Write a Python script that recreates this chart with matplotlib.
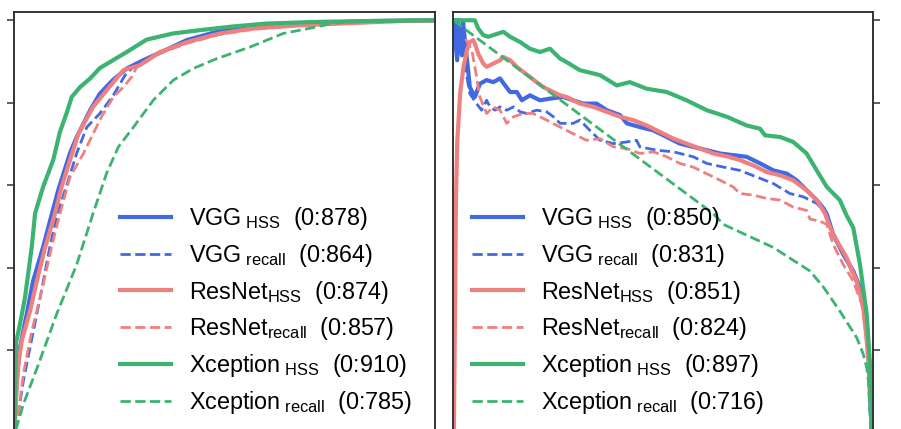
import matplotlib
matplotlib.use("Agg")
import matplotlib.pyplot as plt

plt.rcParams['font.family'] = ['Liberation Sans', 'DejaVu Sans']
plt.rcParams['mathtext.fontset'] = 'custom'
plt.rcParams['mathtext.rm'] = 'Liberation Sans'
plt.rcParams['mathtext.it'] = 'Liberation Sans:italic'
plt.rcParams['mathtext.bf'] = 'Liberation Sans:bold'

# ---------------- data ----------------
models = ["VGG", "VGG", "ResNet", "ResNet", "Xception", "Xception"]
kinds = ["HSS", "recall", "HSS", "recall", "HSS", "recall"]
roc_scores = ["0:878", "0:864", "0:874", "0:857", "0:910", "0:785"]
pr_scores = ["0:850", "0:831", "0:851", "0:824", "0:897", "0:716"]

# ROC curves (false positive rate, true positive rate)
roc_vgg_hss_x = [0.0, 0.001, 0.005, 0.013, 0.029, 0.044, 0.068, 0.089, 0.104, 0.132, 0.148, 0.180, 0.203, 0.234, 0.267, 0.306, 0.362, 0.410, 0.481, 0.560, 0.679, 0.838, 1.0]
roc_vgg_hss_y = [0.0, 0.045, 0.125, 0.207, 0.287, 0.367, 0.450, 0.531, 0.588, 0.678, 0.717, 0.782, 0.822, 0.855, 0.883, 0.903, 0.929, 0.952, 0.972, 0.984, 0.992, 0.998, 1.0]

roc_vgg_rec_x = [0.0, 0.009, 0.021, 0.037, 0.061, 0.084, 0.102, 0.128, 0.148, 0.172, 0.203, 0.235, 0.263, 0.283, 0.306, 0.362, 0.410, 0.481, 0.560, 0.679, 0.838, 1.0]
roc_vgg_rec_y = [0.0, 0.045, 0.125, 0.207, 0.328, 0.450, 0.531, 0.612, 0.678, 0.741, 0.774, 0.818, 0.867, 0.887, 0.901, 0.927, 0.949, 0.968, 0.981, 0.990, 0.997, 1.0]

roc_res_hss_x = [0.0, 0.004, 0.009, 0.017, 0.037, 0.053, 0.073, 0.096, 0.112, 0.132, 0.152, 0.187, 0.219, 0.259, 0.298, 0.346, 0.410, 0.489, 0.567, 0.679, 0.798, 0.917, 1.0]
roc_res_hss_y = [0.0, 0.086, 0.166, 0.222, 0.295, 0.367, 0.450, 0.530, 0.596, 0.661, 0.725, 0.790, 0.830, 0.879, 0.891, 0.923, 0.947, 0.968, 0.980, 0.988, 0.993, 0.998, 1.0]

roc_res_rec_x = [0.0, 0.009, 0.021, 0.041, 0.065, 0.088, 0.108, 0.132, 0.164, 0.187, 0.207, 0.235, 0.259, 0.279, 0.291, 0.346, 0.410, 0.489, 0.567, 0.679, 0.798, 1.0]
roc_res_rec_y = [0.0, 0.045, 0.142, 0.246, 0.345, 0.450, 0.531, 0.620, 0.677, 0.725, 0.766, 0.814, 0.838, 0.863, 0.887, 0.920, 0.944, 0.966, 0.978, 0.987, 0.993, 1.0]

roc_xce_hss_x = [0.0, 0.002, 0.004, 0.013, 0.025, 0.041, 0.049, 0.068, 0.092, 0.108, 0.124, 0.136, 0.156, 0.180, 0.203, 0.234, 0.267, 0.314, 0.377, 0.441, 0.520, 0.600, 0.719, 0.838, 1.0]
roc_xce_hss_y = [0.0, 0.150, 0.220, 0.263, 0.328, 0.450, 0.532, 0.596, 0.661, 0.729, 0.775, 0.814, 0.838, 0.859, 0.884, 0.903, 0.923, 0.953, 0.968, 0.976, 0.985, 0.992, 0.996, 0.998, 1.0]

roc_xce_rec_x = [0.0, 0.005, 0.021, 0.057, 0.100, 0.148, 0.187, 0.219, 0.247, 0.283, 0.330, 0.378, 0.425, 0.481, 0.560, 0.639, 0.719, 0.758, 0.838, 1.0]
roc_xce_rec_y = [0.0, 0.013, 0.069, 0.166, 0.287, 0.408, 0.532, 0.629, 0.693, 0.741, 0.806, 0.855, 0.883, 0.907, 0.935, 0.968, 0.984, 0.993, 0.998, 1.0]

# Precision-recall curves (recall, precision)
pr_vgg_hss_x = [0.001, 0.010, 0.012, 0.021, 0.024, 0.029, 0.036, 0.040, 0.052, 0.064, 0.080, 0.096, 0.112, 0.124, 0.136, 0.152, 0.164, 0.183, 0.207, 0.231, 0.263, 0.286, 0.310, 0.342, 0.366, 0.398, 0.414, 0.445, 0.477, 0.509, 0.540, 0.572, 0.604, 0.636, 0.667, 0.699, 0.731, 0.763, 0.795, 0.818, 0.842, 0.866, 0.882, 0.890, 0.905, 0.929, 0.953, 0.969, 0.981, 0.989, 0.993, 0.997, 0.998]
pr_vgg_hss_y = [1.0, 0.903, 1.0, 0.915, 0.995, 0.944, 0.879, 0.838, 0.814, 0.846, 0.855, 0.850, 0.859, 0.842, 0.826, 0.826, 0.806, 0.818, 0.806, 0.810, 0.814, 0.806, 0.798, 0.798, 0.782, 0.770, 0.750, 0.741, 0.733, 0.717, 0.701, 0.693, 0.685, 0.677, 0.673, 0.669, 0.653, 0.636, 0.628, 0.612, 0.588, 0.564, 0.544, 0.530, 0.481, 0.433, 0.392, 0.352, 0.287, 0.207, 0.086, 0.008, 0.0]

pr_vgg_rec_x = [0.010, 0.021, 0.025, 0.033, 0.040, 0.056, 0.068, 0.080, 0.088, 0.100, 0.112, 0.128, 0.144, 0.160, 0.175, 0.199, 0.223, 0.239, 0.255, 0.286, 0.302, 0.326, 0.350, 0.382, 0.414, 0.437, 0.445, 0.485, 0.525, 0.572, 0.604, 0.644, 0.683, 0.723, 0.763, 0.802, 0.834, 0.866, 0.882, 0.898, 0.921, 0.945, 0.969, 0.981, 0.989, 0.995, 0.996]
pr_vgg_rec_y = [1.0, 0.952, 0.952, 0.863, 0.822, 0.798, 0.782, 0.806, 0.790, 0.782, 0.790, 0.782, 0.790, 0.778, 0.774, 0.782, 0.778, 0.766, 0.750, 0.750, 0.758, 0.733, 0.709, 0.701, 0.705, 0.709, 0.693, 0.685, 0.681, 0.669, 0.653, 0.644, 0.636, 0.620, 0.604, 0.580, 0.572, 0.556, 0.539, 0.498, 0.450, 0.401, 0.344, 0.271, 0.190, 0.008, 0.0]

pr_res_hss_x = [0.002, 0.005, 0.007, 0.010, 0.017, 0.025, 0.033, 0.040, 0.048, 0.052, 0.060, 0.072, 0.080, 0.096, 0.112, 0.120, 0.136, 0.152, 0.167, 0.183, 0.199, 0.215, 0.231, 0.255, 0.271, 0.302, 0.334, 0.366, 0.398, 0.429, 0.461, 0.493, 0.525, 0.556, 0.588, 0.620, 0.652, 0.683, 0.715, 0.747, 0.779, 0.810, 0.842, 0.866, 0.886, 0.898, 0.914, 0.937, 0.961, 0.977, 0.985, 0.993, 0.997, 0.998]
pr_res_hss_y = [0.0, 0.321, 0.564, 0.702, 0.823, 0.887, 0.927, 0.947, 0.952, 0.944, 0.919, 0.895, 0.887, 0.895, 0.903, 0.911, 0.903, 0.887, 0.875, 0.863, 0.850, 0.838, 0.830, 0.818, 0.814, 0.798, 0.790, 0.778, 0.766, 0.758, 0.745, 0.729, 0.713, 0.701, 0.689, 0.677, 0.670, 0.661, 0.648, 0.632, 0.624, 0.612, 0.588, 0.564, 0.531, 0.497, 0.465, 0.425, 0.368, 0.304, 0.223, 0.126, 0.008, 0.0]

pr_res_rec_x = [0.030, 0.045, 0.056, 0.064, 0.080, 0.096, 0.112, 0.128, 0.144, 0.167, 0.191, 0.223, 0.255, 0.286, 0.318, 0.350, 0.382, 0.414, 0.445, 0.477, 0.509, 0.540, 0.572, 0.604, 0.636, 0.667, 0.683, 0.715, 0.747, 0.779, 0.810, 0.842, 0.850, 0.874, 0.890, 0.905, 0.929, 0.953, 0.973, 0.985, 0.993, 0.997, 0.998]
pr_res_rec_y = [0.955, 0.927, 0.863, 0.814, 0.774, 0.790, 0.782, 0.750, 0.766, 0.774, 0.774, 0.758, 0.741, 0.725, 0.709, 0.713, 0.693, 0.689, 0.677, 0.681, 0.669, 0.653, 0.644, 0.628, 0.612, 0.596, 0.580, 0.576, 0.568, 0.564, 0.547, 0.539, 0.518, 0.513, 0.505, 0.457, 0.408, 0.368, 0.312, 0.231, 0.126, 0.008, 0.0]

pr_xce_hss_x = [0.001, 0.052, 0.060, 0.072, 0.084, 0.120, 0.136, 0.160, 0.183, 0.207, 0.231, 0.255, 0.263, 0.302, 0.350, 0.390, 0.421, 0.461, 0.509, 0.556, 0.604, 0.652, 0.699, 0.731, 0.743, 0.779, 0.810, 0.842, 0.866, 0.890, 0.921, 0.937, 0.953, 0.969, 0.985, 0.993, 0.997, 0.999]
pr_xce_hss_y = [1.0, 1.0, 0.980, 0.964, 0.960, 0.972, 0.960, 0.947, 0.931, 0.923, 0.931, 0.907, 0.903, 0.879, 0.867, 0.842, 0.850, 0.834, 0.826, 0.806, 0.782, 0.766, 0.745, 0.737, 0.721, 0.717, 0.705, 0.677, 0.636, 0.596, 0.564, 0.527, 0.497, 0.408, 0.287, 0.166, 0.045, 0.0]

pr_xce_rec_x = [0.002, 0.021, 0.620, 0.628, 0.644, 0.763, 0.850, 0.882, 0.921, 0.961, 0.977, 0.985, 0.989, 0.993, 0.995]
pr_xce_rec_y = [1.0, 0.984, 0.531, 0.522, 0.505, 0.449, 0.392, 0.353, 0.295, 0.231, 0.190, 0.158, 0.126, 0.045, 0.0]

roc_series = [(roc_vgg_hss_x, roc_vgg_hss_y), (roc_vgg_rec_x, roc_vgg_rec_y),
              (roc_res_hss_x, roc_res_hss_y), (roc_res_rec_x, roc_res_rec_y),
              (roc_xce_hss_x, roc_xce_hss_y), (roc_xce_rec_x, roc_xce_rec_y)]
pr_series = [(pr_vgg_hss_x, pr_vgg_hss_y), (pr_vgg_rec_x, pr_vgg_rec_y),
             (pr_res_hss_x, pr_res_hss_y), (pr_res_rec_x, pr_res_rec_y),
             (pr_xce_hss_x, pr_xce_hss_y), (pr_xce_rec_x, pr_xce_rec_y)]

# ---------------- style ----------------
colors = ["#4169E1", "#4169E1", "#F08080", "#F08080", "#3CB371", "#3CB371"]
styles = ["-", "--", "-", "--", "-", "--"]
widths = [3.0, 2.0, 3.0, 2.0, 3.0, 2.0]


def make_label(model, kind, score):
    gap = r"\ " if model != "ResNet" else ""
    return model + r"$_{" + gap + r"\mathrm{" + kind + r"}}$  (" + score + ")"


fig = plt.figure(figsize=(9.01, 4.29), dpi=100)
ax1 = fig.add_axes([14.5 / 901, -12 / 429, 420.5 / 901, 429 / 429])
ax2 = fig.add_axes([453 / 901, -12 / 429, 420 / 901, 429 / 429])

for ax, series, scores, legx in [(ax1, roc_series, roc_scores, 0.251),
                                 (ax2, pr_series, pr_scores, 0.045)]:
    for (xs, ys), m, k, s, c, ls, lw in zip(series, models, kinds, scores, colors, styles, widths):
        ax.plot(xs, ys, color=c, ls=ls, lw=lw, label=make_label(m, k, s))
    ax.set_xlim(0, 1)
    ax.set_ylim(-0.02, 1.02)
    ax.set_yticks([0.0, 0.2, 0.4, 0.6, 0.8, 1.0])
    ax.set_xticks([])
    for sp in ax.spines.values():
        sp.set_color("#333333")
        sp.set_linewidth(1.4)
    ax.tick_params(axis="y", length=5, width=1.1, color="#333333", labelleft=False, labelright=False)
    leg = ax.legend(loc="upper left", bbox_to_anchor=(legx, 0.550), frameon=False,
                    fontsize=16.8, borderpad=0, borderaxespad=0, handlelength=2.2,
                    handletextpad=0.75, labelspacing=0.42)

ax2.yaxis.tick_right()
ax2.tick_params(axis="y", left=False, right=True)

fig.savefig("out.png", dpi=100)
